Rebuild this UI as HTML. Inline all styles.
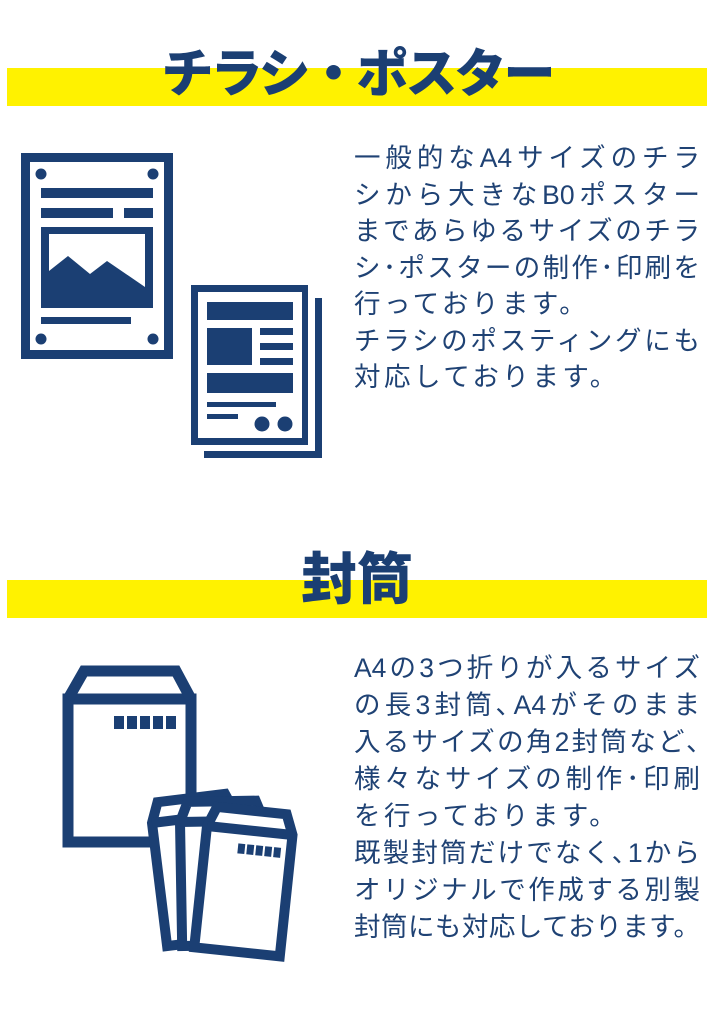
<!DOCTYPE html>
<html><head><meta charset="utf-8"><style>
html,body{margin:0;padding:0;background:#fff;}
body{width:714px;height:1024px;position:relative;overflow:hidden;font-family:"Liberation Sans","Noto Sans CJK JP",sans-serif;}
.bar{position:absolute;left:7px;width:700px;background:#fff200;}
.title{position:absolute;left:0;width:714px;text-align:center;color:#1b3f73;font-weight:900;font-family:"Noto Sans CJK JP",sans-serif;white-space:nowrap;}
.txt{position:absolute;left:354px;width:346px;color:#1f4274;font-size:26.5px;white-space:nowrap;font-family:"Liberation Sans","Noto Sans CJK JP",sans-serif;}
.txt div{height:36.5px;line-height:36.5px;letter-spacing:3.5px;}
.txt.b div{height:37px;line-height:37px;}
.txt div.j{letter-spacing:0;text-align:justify;text-align-last:justify;text-justify:inter-character;white-space:normal;}
svg{position:absolute;left:0;top:0;}
</style></head><body>
<div class="bar" style="top:68px;height:38px"></div>
<div class="title" style="top:30px;font-size:52px;line-height:80px;letter-spacing:-3px">チラシ・ポスター</div>
<div class="bar" style="top:580px;height:38px"></div>
<div class="title" style="top:536px;font-size:56px;line-height:80px">封筒</div>

<div class="txt" style="top:140px">
<div class="j">一般的なA4サイズのチラ</div>
<div class="j">シから大きなB0ポスター</div>
<div class="j">まであらゆるサイズのチラ</div>
<div class="j">シ･ポスターの制作･印刷を</div>
<div>行っております。</div>
<div class="j">チラシのポスティングにも</div>
<div>対応しております。</div>
</div>
<div class="txt b" style="top:650px">
<div class="j">A4の3つ折りが入るサイズ</div>
<div class="j">の長3封筒､A4がそのまま</div>
<div class="j">入るサイズの角2封筒など､</div>
<div class="j">様々なサイズの制作･印刷</div>
<div>を行っております。</div>
<div class="j">既製封筒だけでなく､1から</div>
<div class="j">オリジナルで作成する別製</div>
<div class="j">封筒にも対応しております。</div>
</div>

<svg width="714" height="1024" viewBox="0 0 714 1024">
<g fill="#1b3f73">
<rect x="21" y="153" width="152" height="206"/>
<rect x="30" y="162" width="134" height="188" fill="#fff"/>
<circle cx="41" cy="174" r="5.5"/><circle cx="153" cy="174" r="5.5"/>
<circle cx="41" cy="339" r="5.5"/><circle cx="153" cy="339" r="5.5"/>
<rect x="41" y="188" width="112" height="10"/>
<rect x="41" y="208" width="72" height="10"/><rect x="124" y="208" width="29" height="10"/>
<rect x="41" y="227" width="112" height="81"/>
<rect x="49" y="234" width="96" height="53" fill="#fff"/>
<polygon points="49,271 68,256 90,274 107,261 145,287 145,288 49,288"/>
<rect x="41" y="317" width="90" height="7"/>

<rect x="315" y="298" width="7" height="160"/>
<rect x="204" y="451" width="118" height="7"/>
<rect x="191" y="285" width="117" height="160"/>
<rect x="198" y="292" width="104" height="146" fill="#fff"/>
<rect x="207" y="302" width="86" height="18"/>
<rect x="207" y="328" width="45" height="37"/>
<rect x="260" y="328" width="33" height="7"/><rect x="260" y="343" width="33" height="7"/><rect x="260" y="358" width="33" height="7"/>
<rect x="207" y="373" width="86" height="20"/>
<rect x="207" y="402" width="69" height="5"/>
<rect x="207" y="414" width="31" height="5"/>
<circle cx="262" cy="424" r="7.5"/><circle cx="285" cy="424" r="7.5"/>
</g>

<g fill="#fff" stroke="#1b3f73" stroke-width="11" stroke-linejoin="miter">
<rect x="68" y="699" width="123" height="143"/>
<polyline points="68,699 84,671 176,671 191,699" fill="none"/>
</g>
<g fill="#1b3f73">
<rect x="114" y="716" width="10" height="13"/><rect x="127" y="716" width="10" height="13"/><rect x="140" y="716" width="10" height="13"/><rect x="153" y="716" width="10" height="13"/><rect x="166" y="716" width="10" height="13"/>
</g>

<g fill="#fff" stroke="#1b3f73" stroke-width="10">
<g transform="translate(152,823) rotate(-7)">
<polygon points="0,0 8,-20 76,-20 84,0 84,124 0,124"/><line x1="0" y1="0" x2="84" y2="0"/>
</g>
<g transform="translate(180,822) rotate(-1)">
<polygon points="0,0 8,-20 76,-20 84,0 84,124 0,124"/><line x1="0" y1="0" x2="84" y2="0"/>
</g>
<g transform="translate(207,826) rotate(6)">
<polygon points="0,0 8,-20 78,-20 86,0 86,122 0,122"/><line x1="0" y1="0" x2="86" y2="0"/>
</g>
</g>
<g fill="#1b3f73" transform="translate(207,826) rotate(6)">
<rect x="33" y="14" width="7" height="10"/><rect x="42" y="14" width="7" height="10"/><rect x="51" y="14" width="7" height="10"/><rect x="60" y="14" width="7" height="10"/><rect x="69" y="14" width="7" height="10"/>
</g>
</svg>
</body></html>
